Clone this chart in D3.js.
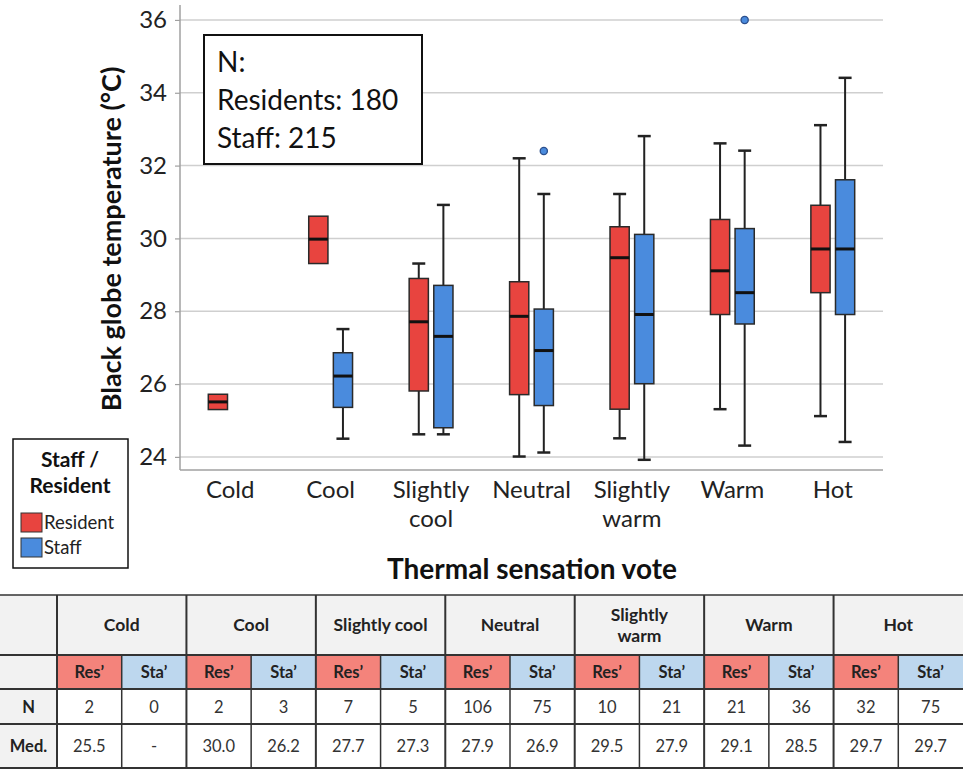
<!DOCTYPE html>
<html>
<head>
<meta charset="utf-8">
<script src="https://cdn.jsdelivr.net/npm/d3@7"></script>
<style>
  html, body { margin: 0; padding: 0; background: #fff; }
  svg { display: block; font-family: Lato, "Noto Sans", sans-serif; }
</style>
</head>
<body>
<svg id="chart" width="963" height="770"></svg>
<script>
// ---------------- DATA ----------------
const categories = ["Cold", "Cool", "Slightly cool", "Neutral", "Slightly warm", "Warm", "Hot"];
const categoryLines = [["Cold"], ["Cool"], ["Slightly", "cool"], ["Neutral"], ["Slightly", "warm"], ["Warm"], ["Hot"]];
const groups = ["Resident", "Staff"];

// [whiskerLow, q1, median, q3, whiskerHigh]; null = no data / no whisker
const residentStats = [
  [null, 25.30, 25.51, 25.72, null],
  [null, 29.31, 29.98, 30.61, null],
  [24.62, 25.81, 27.71, 28.90, 29.31],
  [24.01, 25.71, 27.86, 28.81, 32.20],
  [24.51, 25.31, 29.47, 30.32, 31.22],
  [25.31, 27.91, 29.11, 30.52, 32.61],
  [25.12, 28.51, 29.71, 30.91, 33.11]
];
const staffStats = [
  null,
  [24.50, 25.36, 26.22, 26.86, 27.51],
  [24.62, 24.80, 27.31, 28.71, 30.92],
  [24.12, 25.41, 26.92, 28.06, 31.22],
  [23.92, 26.01, 27.91, 30.11, 32.81],
  [24.31, 27.65, 28.51, 30.27, 32.41],
  [24.41, 27.91, 29.71, 31.61, 34.41]
];
// outliers: [categoryIndex, group, value]
const outliers = [
  [3, "Staff", 32.40],
  [5, "Staff", 36.00]
];
const yTicks = [24, 26, 28, 30, 32, 34, 36];

// table
const tableHeaders = ["Cold", "Cool", "Slightly cool", "Neutral", "Slightly\nwarm", "Warm", "Hot"];
const subHeaders = ["Res\u2019", "Sta\u2019"];
const nResidents = ["2", "2", "7", "106", "10", "21", "32"];
const nStaff = ["0", "3", "5", "75", "21", "36", "75"];
const medResidents = ["25.5", "30.0", "27.7", "27.9", "29.5", "29.1", "29.7"];
const medStaff = ["-", "26.2", "27.3", "26.9", "27.9", "28.5", "29.7"];
const rowLabels = ["N", "Med."];
const annotationLines = ["N:", "Residents: 180", "Staff: 215"];

// ---------------- DRAW ----------------
const svg = d3.select("#chart");
const colors = { Resident: "#E8443F", Staff: "#4A8BDD" };
const plot = { left: 180, right: 883, top: 5, bottom: 470 };

const x = d3.scaleBand().domain(categories).range([plot.left, plot.right]).padding(0);
const xg = d3.scaleBand().domain(groups).range([0, x.bandwidth()]).paddingInner(0.22).paddingOuter(1.15);
const y = d3.scaleLinear().domain([23.64, 36.41]).range([plot.bottom, plot.top]);

// gridlines
svg.append("g").selectAll("line").data(yTicks).join("line")
  .attr("x1", plot.left).attr("x2", plot.right)
  .attr("y1", d => y(d)).attr("y2", d => y(d))
  .attr("stroke", "#cfcfcf").attr("stroke-width", 1.5);

// y axis
const yAxis = svg.append("g").attr("transform", `translate(${plot.left},0)`)
  .call(d3.axisLeft(y).tickValues(yTicks).tickSize(5).tickPadding(8).tickFormat(d3.format("d")));
yAxis.select(".domain").attr("stroke", "#a0a0a0").attr("stroke-width", 1.5)
  .attr("d", `M0,${plot.top}V${plot.bottom}`);
yAxis.selectAll(".tick line").attr("stroke", "#a0a0a0").attr("stroke-width", 1.2);
yAxis.selectAll(".tick text").attr("font-size", 24).attr("fill", "#222").attr("font-family", "Lato");

// x axis baseline
svg.append("line").attr("x1", plot.left).attr("x2", plot.right)
  .attr("y1", plot.bottom).attr("y2", plot.bottom)
  .attr("stroke", "#a0a0a0").attr("stroke-width", 1.5);

// x labels
const xl = svg.append("g").selectAll("text").data(categories).join("text")
  .attr("text-anchor", "middle").attr("font-size", 24).attr("fill", "#222")
  .attr("x", d => x(d) + x.bandwidth() / 2);
xl.each(function(d, i) {
  d3.select(this).selectAll("tspan").data(categoryLines[i]).join("tspan")
    .attr("x", x(d) + x.bandwidth() / 2)
    .attr("y", (t, j) => 498 + j * 29)
    .text(t => t);
});

// boxes
const boxW = xg.bandwidth();
const capW = 13;
function drawBox(stats, ci, group) {
  if (!stats) return;
  const [lo, q1, med, q3, hi] = stats;
  const cx = x(categories[ci]) + xg(group) + boxW / 2;
  const g = svg.append("g");
  const wStyle = sel => sel.attr("stroke", "#222").attr("stroke-width", 2);
  if (hi != null) {
    g.append("line").attr("x1", cx).attr("x2", cx).attr("y1", y(q3)).attr("y2", y(hi)).call(wStyle);
    g.append("line").attr("x1", cx - capW / 2).attr("x2", cx + capW / 2).attr("y1", y(hi)).attr("y2", y(hi)).call(wStyle).attr("stroke-width", 2.5);
  }
  if (lo != null) {
    g.append("line").attr("x1", cx).attr("x2", cx).attr("y1", y(q1)).attr("y2", y(lo)).call(wStyle);
    g.append("line").attr("x1", cx - capW / 2).attr("x2", cx + capW / 2).attr("y1", y(lo)).attr("y2", y(lo)).call(wStyle).attr("stroke-width", 2.5);
  }
  g.append("rect").attr("x", cx - boxW / 2).attr("width", boxW)
    .attr("y", y(q3)).attr("height", y(q1) - y(q3))
    .attr("fill", colors[group]).attr("stroke", "#2a2a2a").attr("stroke-width", 1.5);
  g.append("line").attr("x1", cx - boxW / 2).attr("x2", cx + boxW / 2)
    .attr("y1", y(med)).attr("y2", y(med)).attr("stroke", "#111").attr("stroke-width", 3);
}
categories.forEach((c, i) => {
  drawBox(residentStats[i], i, "Resident");
  drawBox(staffStats[i], i, "Staff");
});

// outliers
svg.append("g").selectAll("circle").data(outliers).join("circle")
  .attr("cx", d => x(categories[d[0]]) + xg(d[1]) + boxW / 2)
  .attr("cy", d => y(d[2])).attr("r", 3.6)
  .attr("fill", colors.Staff).attr("stroke", "#2c4f8c").attr("stroke-width", 1.3);

// y title
svg.append("text").attr("transform", "translate(121,239) rotate(-90)")
  .attr("text-anchor", "middle").attr("font-size", 27).attr("font-weight", "bold").attr("fill", "#111")
  .text("Black globe temperature (\u00B0C)");

// x title
svg.append("text").attr("x", 532).attr("y", 579).attr("text-anchor", "middle")
  .attr("font-size", 28).attr("font-weight", "bold").attr("fill", "#111")
  .text("Thermal sensation vote");

// annotation box
svg.append("rect").attr("x", 204).attr("y", 35).attr("width", 218).attr("height", 129)
  .attr("fill", "#fff").attr("stroke", "#111").attr("stroke-width", 2);
svg.append("g").selectAll("text").data(annotationLines).join("text")
  .attr("x", 217).attr("y", (d, i) => 72 + i * 38)
  .attr("font-size", 28).attr("fill", "#111").text(d => d);

// legend
const lg = svg.append("g");
lg.append("rect").attr("x", 13).attr("y", 439).attr("width", 115).attr("height", 129)
  .attr("fill", "#fff").attr("stroke", "#111").attr("stroke-width", 1.5);
lg.selectAll("text.t").data(["Staff /", "Resident"]).join("text").attr("class", "t")
  .attr("x", 70).attr("y", (d, i) => 467 + i * 26).attr("text-anchor", "middle")
  .attr("font-size", 21).attr("font-weight", "bold").attr("fill", "#111").text(d => d);
groups.forEach((gName, i) => {
  lg.append("rect").attr("x", 21).attr("y", 513 + i * 25).attr("width", 21).attr("height", 19)
    .attr("fill", colors[gName]).attr("stroke", "#333").attr("stroke-width", 1);
  lg.append("text").attr("x", 44).attr("y", 529 + i * 25).attr("font-size", 18.5).attr("fill", "#222").text(gName);
});

// ---------------- TABLE ----------------
const tb = svg.append("g");
const tx0 = 0, tFirst = 57, tRight = 963;
const tg = d3.scaleBand().domain(categories).range([tFirst, tRight]);
const ts = d3.scaleBand().domain(subHeaders).range([0, tg.bandwidth()]);
const rowY = [595, 655, 689, 724, 768];
const gray = "#F2F2F2", resFill = "#F4837B", staFill = "#BDD7EE";

// backgrounds
tb.append("rect").attr("x", tx0).attr("y", rowY[0]).attr("width", tRight).attr("height", rowY[1] - rowY[0]).attr("fill", gray);
tb.append("rect").attr("x", tx0).attr("y", rowY[1]).attr("width", tFirst).attr("height", rowY[4] - rowY[1]).attr("fill", gray);
categories.forEach(c => {
  subHeaders.forEach((s, j) => {
    tb.append("rect").attr("x", tg(c) + ts(s)).attr("y", rowY[1])
      .attr("width", ts.bandwidth()).attr("height", rowY[2] - rowY[1])
      .attr("fill", j === 0 ? resFill : staFill);
  });
});

// horizontal lines
tb.selectAll("line.h").data(rowY).join("line").attr("class", "h")
  .attr("x1", 0).attr("x2", tRight).attr("y1", d => d).attr("y2", d => d)
  .attr("stroke", "#333").attr("stroke-width", (d, i) => i === 0 ? 1.5 : 2);
// vertical group lines
tb.selectAll("line.vg").data(categories).join("line").attr("class", "vg")
  .attr("x1", d => tg(d)).attr("x2", d => tg(d)).attr("y1", rowY[0]).attr("y2", rowY[4])
  .attr("stroke", "#333").attr("stroke-width", 2);
// vertical sub lines
tb.selectAll("line.vs").data(categories).join("line").attr("class", "vs")
  .attr("x1", d => tg(d) + ts("Sta\u2019")).attr("x2", d => tg(d) + ts("Sta\u2019"))
  .attr("y1", rowY[1]).attr("y2", rowY[4])
  .attr("stroke", "#333").attr("stroke-width", 1.5);

// header text
categories.forEach((c, i) => {
  const lines = tableHeaders[i].split("\n");
  const cy = (rowY[0] + rowY[1]) / 2;
  const t = tb.append("text").attr("text-anchor", "middle").attr("font-size", 17.5)
    .attr("font-weight", "bold").attr("fill", "#222");
  lines.forEach((ln, j) => {
    t.append("tspan").attr("x", tg(c) + tg.bandwidth() / 2)
      .attr("y", cy + 6 + (j - (lines.length - 1) / 2) * 21).text(ln);
  });
  subHeaders.forEach((s, j) => {
    tb.append("text").attr("x", tg(c) + ts(s) + ts.bandwidth() / 2).attr("y", (rowY[1] + rowY[2]) / 2 + 6)
      .attr("text-anchor", "middle").attr("font-size", 16.5).attr("font-weight", "bold").attr("fill", "#222").text(s);
  });
  const vals = [[nResidents[i], nStaff[i]], [medResidents[i], medStaff[i]]];
  vals.forEach((pair, r) => {
    pair.forEach((v, j) => {
      tb.append("text").attr("x", tg(c) + ts(subHeaders[j]) + ts.bandwidth() / 2)
        .attr("y", (rowY[2 + r] + rowY[3 + r]) / 2 + 6)
        .attr("text-anchor", "middle").attr("font-size", 16.5).attr("fill", "#333").text(v);
    });
  });
});
rowLabels.forEach((l, r) => {
  tb.append("text").attr("x", tFirst / 2).attr("y", (rowY[2 + r] + rowY[3 + r]) / 2 + 6)
    .attr("text-anchor", "middle").attr("font-size", 16.5).attr("font-weight", "bold").attr("fill", "#222").text(l);
});
</script>
</body>
</html>
